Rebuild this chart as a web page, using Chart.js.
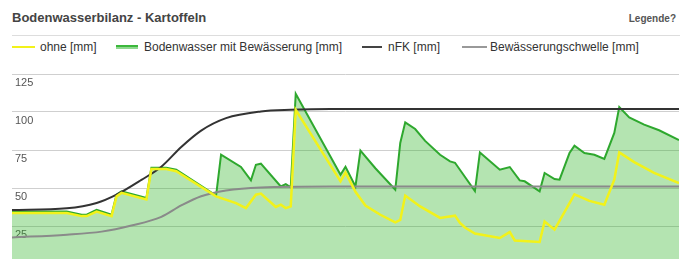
<!DOCTYPE html>
<html>
<head>
<meta charset="utf-8">
<script src="https://cdn.jsdelivr.net/npm/chart.js@4.4.1/dist/chart.umd.min.js"></script>
<style>
  html, body { margin:0; padding:0; width:680px; height:259px; overflow:hidden; background:#fff; font-family:"Liberation Sans", Arial, sans-serif; }
  #title { position:absolute; left:12px; top:10px; font-size:13px; font-weight:bold; color:#444; white-space:nowrap; }
  #help { position:absolute; right:4px; top:13px; font-size:10px; font-weight:bold; color:#555; }
  #rule { position:absolute; left:12px; right:0; top:35px; height:1px; background:#ddd; }
  .lg { position:absolute; top:40px; font-size:12px; color:#333; white-space:nowrap; line-height:14px; }
  .sw { position:absolute; }
  #wrap { position:absolute; left:0; top:60px; width:680px; height:206px; }
</style>
</head>
<body>
<div id="title">Bodenwasserbilanz - Kartoffeln</div>
<div id="help">Legende?</div>
<div id="rule"></div>
<div class="sw" style="left:12px;top:46px;width:23px;height:2px;background:#f2f21a;"></div>
<div class="lg" style="left:40px;">ohne [mm]</div>
<div class="sw" style="left:116px;top:45px;width:22px;height:2px;background:#3cb83c;border-bottom:2px solid #8fd88f;"></div>
<div class="lg" style="left:144px;">Bodenwasser mit Bewässerung [mm]</div>
<div class="sw" style="left:362px;top:46px;width:20px;height:2px;background:#444;"></div>
<div class="lg" style="left:388px;">nFK [mm]</div>
<div class="sw" style="left:462px;top:46px;width:25px;height:2px;background:#999;"></div>
<div class="lg" style="left:490px;">Bewässerungschwelle [mm]</div>
<div id="wrap"><canvas id="c" width="680" height="206"></canvas></div>
<script>
// Days (x) and values
const ohneDays = [0,11,14,15,17,20,21,22,27,28,31,33,41,45,47,49,50,53,54,55,56,57,66,67,69,71,74,77,78,79,82,86,89,90,91,93,98,100,101,106,107,109,113,116,119,121,122,125,129,134];
const ohneVals = [33.5,33.5,31.5,31.5,34.5,31.5,44.5,46.8,42.5,62.5,62.5,61,44.5,40.1,36.8,45.6,46.3,37.5,39,36.8,37.9,101.5,54.4,60.3,47.5,38.5,32.4,27.4,29,45,37.9,30.3,31.8,27,24,20,17.1,21,15.5,14.5,28,22.6,45.8,41.5,39,55.5,73.4,67,60,53.3];

const mitDays = [0,11,14,15,17,20,21,22,27,28,31,33,41,42,46,48,49,50,54,55,56,57,66,67,69,70,73,77,78,79,81,83,86,88,89,93,94,98,100,102,103,106,107,109,110,112,113,115,117,119,121,122,124,127,130,134];
const mitVals = [34.6,34.6,32.4,32.4,35.7,32.4,45.6,47.8,43.4,63.4,63.4,62,45,71.9,63.8,55,65.3,66,51,52.6,50.4,112,58.7,64,51,74.6,63,48.9,79.6,93.2,88.8,81,71.9,67.5,66.6,48,73.4,62,63.8,55,54.4,47.8,59.9,55.9,55.5,73,77.8,73,71.9,69.1,86.2,103.3,96.5,91.7,88,81.5];

const nfkDays = [0,11,17,21,26,30,34,38,43,50,56,64,80,134];
const nfkVals = [35.5,36.6,40.1,45.6,55.3,64,77,87.8,96,100.4,101.5,102,102,102];

const schwelleDays = [0,11,18,24,30,34,38,43,50,64,80,134];
const schwelleVals = [17.5,19.3,21.3,25.3,31,38.5,44.6,48.4,50.4,51,51,51];

const yTicks = [0,25,50,75,100,125];

const pts = (d, v) => d.map((x, i) => ({x, y: v[i]}));
const fixTicks = (s) => { s.ticks = yTicks.map(v => ({ value: v })); };
const noSize = (s) => { s.width = 0; s.paddingTop = 0; s.paddingBottom = 0; };

new Chart(document.getElementById('c'), {
  type: 'line',
  data: {
    datasets: [
      { label: 'ohne [mm]', data: pts(ohneDays, ohneVals), borderColor: '#f2f21a', borderWidth: 2.5, pointRadius: 0, fill: false, tension: 0 },
      { label: 'nFK [mm]', data: pts(nfkDays, nfkVals), borderColor: '#333', borderWidth: 2, pointRadius: 0, fill: false, cubicInterpolationMode: 'monotone' },
      { label: 'Bewässerungschwelle [mm]', data: pts(schwelleDays, schwelleVals), borderColor: '#8a8a8a', borderWidth: 2, pointRadius: 0, fill: false, cubicInterpolationMode: 'monotone' },
      { label: 'Bodenwasser mit Bewässerung [mm]', data: pts(mitDays, mitVals), borderColor: '#2ea82e', borderWidth: 2, pointRadius: 0, fill: 'origin', backgroundColor: 'rgba(46,180,40,0.36)', tension: 0 }
    ]
  },
  options: {
    responsive: false,
    animation: false,
    layout: { padding: { left: 12, right: 1, top: 14, bottom: 2 } },
    plugins: { legend: { display: false }, tooltip: { enabled: false } },
    scales: {
      x: { type: 'linear', min: 0, max: 134, display: false },
      y: {
        min: 0, max: 125,
        afterBuildTicks: fixTicks, afterFit: noSize,
        border: { display: false },
        grid: { color: '#cfcfcf', lineWidth: 1, drawTicks: false },
        ticks: { display: false }
      },
      yLabels: {
        position: 'left', min: 0, max: 125, z: 1,
        afterBuildTicks: fixTicks, afterFit: noSize,
        border: { display: false },
        grid: { display: false, drawTicks: false },
        ticks: {
          mirror: true, padding: 3, labelOffset: 9,
          color: '#555', font: { family: '"Liberation Sans", Arial, sans-serif', size: 11 },
          callback: (v) => v === 0 ? '' : String(v)
        }
      }
    }
  }
});
</script>
</body>
</html>
